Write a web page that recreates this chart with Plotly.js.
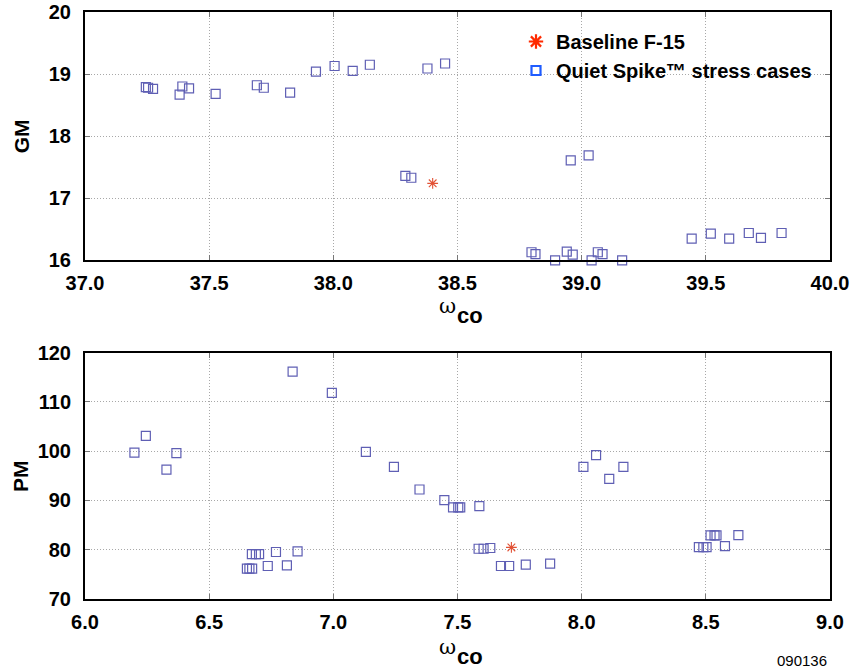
<!DOCTYPE html>
<html>
<head>
<meta charset="utf-8">
<script src="https://cdn.plot.ly/plotly-3.0.1.min.js"></script>
<style>
  html, body { margin: 0; padding: 0; background: #ffffff; }
  #chart { width: 857px; height: 672px; }
</style>
</head>
<body>
<div id="chart"></div>
<script>
// Gain margin (GM) versus crossover frequency
const gmStressX = [37.245, 37.254, 37.274, 37.392, 37.419, 37.381, 37.526, 37.692, 37.720, 37.826,
                   37.930, 38.005, 38.078, 38.147, 38.379, 38.450, 38.290, 38.314, 38.956, 39.028,
                   38.798, 38.814, 38.893, 38.940, 38.964, 39.040, 39.065, 39.084, 39.163,
                   39.443, 39.520, 39.594, 39.673, 39.722, 39.805];
const gmStressY = [18.79, 18.78, 18.76, 18.80, 18.77, 18.67, 18.68, 18.82, 18.78, 18.70,
                   19.04, 19.13, 19.05, 19.15, 19.09, 19.17, 17.36, 17.33, 17.61, 17.69,
                   16.13, 16.10, 16.00, 16.14, 16.09, 16.00, 16.13, 16.10, 16.00,
                   16.35, 16.43, 16.35, 16.44, 16.36, 16.44];
const gmBaseX = [38.40];
const gmBaseY = [17.24];

// Phase margin (PM) versus crossover frequency
const pmStressX = [6.199, 6.245, 6.328, 6.368, 6.652, 6.662, 6.673, 6.672, 6.688, 6.701,
                   6.736, 6.769, 6.813, 6.836, 6.856, 6.994, 7.131, 7.244, 7.347, 7.447,
                   7.482, 7.503, 7.511, 7.588, 7.585, 7.605, 7.632, 7.675, 7.708, 7.775,
                   7.873, 8.007, 8.058, 8.111, 8.168, 8.472, 8.490, 8.503, 8.519, 8.535,
                   8.543, 8.577, 8.631];
const pmStressY = [99.73, 103.1, 96.28, 99.6, 76.15, 76.15, 76.15, 79.13, 79.13, 79.13,
                   76.7, 79.54, 76.83, 116.15, 79.66, 111.83, 99.87, 96.83, 92.23, 90.07,
                   88.6, 88.6, 88.6, 88.86, 80.2, 80.2, 80.35, 76.7, 76.7, 76.96,
                   77.17, 96.83, 99.2, 94.4, 96.83, 80.55, 80.55, 80.55, 82.9, 82.9,
                   82.9, 80.75, 82.98];
const pmBaseX = [7.717];
const pmBaseY = [80.47];

const legendNames = ['Baseline F-15', 'Quiet Spike\u2122 stress cases'];
const xTicks1 = [37.0, 37.5, 38.0, 38.5, 39.0, 39.5, 40.0];
const yTicks1 = [16, 17, 18, 19, 20];
const xTicks2 = [6.0, 6.5, 7.0, 7.5, 8.0, 8.5, 9.0];
const yTicks2 = [70, 80, 90, 100, 110, 120];

// page geometry
const W = 857, H = 672;
const M = { l: 85, r: 27, t: 12, b: 73 };
const plotW = W - M.l - M.r, plotH = H - M.t - M.b;
const px2x = px => (px - M.l) / plotW;
const py2y = py => (H - M.b - py) / plotH;

const FONT = 'Liberation Sans, Arial, Helvetica, sans-serif';
const stressMarker = { symbol: 'square-open', size: 9, color: '#5f5fb4', line: { width: 1.2, color: '#5f5fb4' } };
const baseMarker = { symbol: 'asterisk-open', size: 9, color: '#e25236', line: { width: 1.1, color: '#e25236' } };

const traces = [
  { x: gmStressX, y: gmStressY, xaxis: 'x', yaxis: 'y', type: 'scatter', mode: 'markers',
    marker: stressMarker, showlegend: false, cliponaxis: false },
  { x: gmBaseX, y: gmBaseY, xaxis: 'x', yaxis: 'y', type: 'scatter', mode: 'markers',
    marker: baseMarker, showlegend: false, cliponaxis: false },
  { x: pmStressX, y: pmStressY, xaxis: 'x2', yaxis: 'y2', type: 'scatter', mode: 'markers',
    marker: stressMarker, showlegend: false, cliponaxis: false },
  { x: pmBaseX, y: pmBaseY, xaxis: 'x2', yaxis: 'y2', type: 'scatter', mode: 'markers',
    marker: baseMarker, showlegend: false, cliponaxis: false },
  // legend entries
  { x: [null], y: [null], xaxis: 'x', yaxis: 'y', type: 'scatter', mode: 'markers', name: legendNames[0],
    marker: { symbol: 'asterisk-open', size: 12, color: '#ff2a00', line: { width: 2.2, color: '#ff2a00' } } },
  { x: [null], y: [null], xaxis: 'x', yaxis: 'y', type: 'scatter', mode: 'markers', name: legendNames[1],
    marker: { symbol: 'square-open', size: 9, color: '#1f5cff', line: { width: 2.2, color: '#1f5cff' } } }
];

function axisBase(extra) {
  return Object.assign({
    showline: true, linecolor: '#000', linewidth: 2, mirror: 'ticks',
    ticks: 'inside', ticklen: 5, tickwidth: 1, tickcolor: '#777',
    showgrid: true, gridcolor: '#a8a8a8', griddash: '1px,2px', gridwidth: 1,
    zeroline: false, fixedrange: true,
    tickfont: { family: FONT, size: 20, color: '#000', weight: 'bold' }
  }, extra);
}

const topDom = [py2y(260.3), 1];
const botDom = [0, py2y(352.7)];

const layout = {
  width: W, height: H,
  margin: M,
  paper_bgcolor: '#fff', plot_bgcolor: '#fff',
  showlegend: true,
  legend: {
    x: px2x(516), y: py2y(22), xanchor: 'left', yanchor: 'top',
    bgcolor: 'rgba(0,0,0,0)', borderwidth: 0,
    font: { family: FONT, size: 20, color: '#000', weight: 'bold' },
    tracegroupgap: 0, itemsizing: 'trace'
  },
  xaxis: axisBase({ domain: [0, 1], range: [37, 40], tickvals: xTicks1, tickformat: '.1f', anchor: 'y', ticklabelstandoff: 4 }),
  yaxis: axisBase({ domain: topDom, range: [16, 20], tickvals: yTicks1, anchor: 'x', ticklabelstandoff: 8 }),
  xaxis2: axisBase({ domain: [0, 1], range: [6, 9], tickvals: xTicks2, tickformat: '.1f', anchor: 'y2', ticklabelstandoff: 4 }),
  yaxis2: axisBase({ domain: botDom, range: [70, 120], tickvals: yTicks2, anchor: 'x2', ticklabelstandoff: 8 }),
  annotations: [
    // y axis titles
    { xref: 'paper', yref: 'paper', x: px2x(21), y: py2y(136.3), text: '<b>GM</b>', textangle: -90,
      showarrow: false, xanchor: 'center', yanchor: 'middle',
      font: { family: FONT, size: 21, color: '#000' } },
    { xref: 'paper', yref: 'paper', x: px2x(21), y: py2y(476), text: '<b>PM</b>', textangle: -90,
      showarrow: false, xanchor: 'center', yanchor: 'middle',
      font: { family: FONT, size: 21, color: '#000' } },
    // x axis titles: omega followed by "co"
    { xref: 'paper', yref: 'paper', x: px2x(447), y: py2y(306), text: '\u03c9',
      showarrow: false, xanchor: 'center', yanchor: 'middle',
      font: { family: 'DejaVu Serif, Liberation Serif, serif', size: 21, color: '#000' } },
    { xref: 'paper', yref: 'paper', x: px2x(455), y: py2y(315), text: '<b>co</b>',
      showarrow: false, xanchor: 'left', yanchor: 'middle',
      font: { family: FONT, size: 22, color: '#000' } },
    { xref: 'paper', yref: 'paper', x: px2x(447), y: py2y(647), text: '\u03c9',
      showarrow: false, xanchor: 'center', yanchor: 'middle',
      font: { family: 'DejaVu Serif, Liberation Serif, serif', size: 21, color: '#000' } },
    { xref: 'paper', yref: 'paper', x: px2x(455), y: py2y(656), text: '<b>co</b>',
      showarrow: false, xanchor: 'left', yanchor: 'middle',
      font: { family: FONT, size: 22, color: '#000' } },
    // figure number
    { xref: 'paper', yref: 'paper', x: px2x(829), y: py2y(660), text: '090136',
      showarrow: false, xanchor: 'right', yanchor: 'middle',
      font: { family: FONT, size: 15, color: '#000' } }
  ]
};

Plotly.newPlot('chart', traces, layout, { displayModeBar: false, staticPlot: true });
</script>
</body>
</html>
